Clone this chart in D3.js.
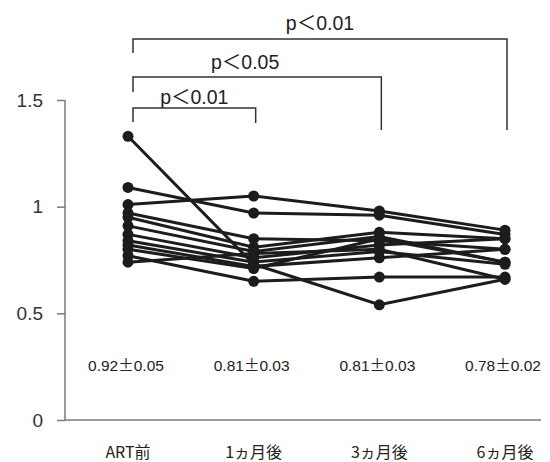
<!DOCTYPE html>
<html><head><meta charset="utf-8">
<script src="https://cdn.jsdelivr.net/npm/d3@7"></script>
<style>
html,body{margin:0;padding:0;background:#fff;}
svg{display:block;}
</style></head>
<body>
<svg id="chart" width="550" height="462"></svg>
<script>
const categories = ["ART前", "1ヵ月後", "3ヵ月後", "6ヵ月後"];
const yTicks = [0, 0.5, 1, 1.5];
const yTickLabels = ["0", "0.5", "1", "1.5"];
const statLabels = ["0.92±0.05", "0.81±0.03", "0.81±0.03", "0.78±0.02"];
// each subject: values at the four time points
const s01 = [1.33, 0.73, 0.54, 0.66];
const s02 = [1.09, 0.97, 0.96, 0.87];
const s03 = [1.01, 1.05, 0.98, 0.89];
const s04 = [0.77, 0.65, 0.67, 0.67];
const s05 = [0.97, 0.85, 0.84, 0.80];
const s06 = [0.95, 0.81, 0.88, 0.85];
const s07 = [0.91, 0.79, 0.86, 0.74];
const s08 = [0.87, 0.76, 0.82, 0.85];
const s09 = [0.84, 0.74, 0.79, 0.73];
const s10 = [0.82, 0.72, 0.76, 0.80];
const s11 = [0.80, 0.71, 0.85, 0.74];
const s12 = [0.74, 0.78, 0.80, 0.66];
const subjects = [s01, s02, s03, s04, s05, s06, s07, s08, s09, s10, s11, s12];
// significance brackets: [from category index, to category index, label]
const brackets = [
  [0, 3, "p＜0.01"],
  [0, 2, "p＜0.05"],
  [0, 1, "p＜0.01"]
];

const svg = d3.select("#chart");
const x = d3.scalePoint().domain(categories).range([128, 505]);
const y = d3.scaleLinear().domain([0, 1.5]).range([420, 100]);

const axisColor = "#7a7a7a";

// y axis
const yAxis = d3.axisLeft(y).tickValues(yTicks)
  .tickFormat((d, i) => yTickLabels[i]).tickSize(8).tickPadding(14);
const gy = svg.append("g").attr("transform", "translate(65,0)").call(yAxis);
gy.select(".domain").attr("stroke", axisColor).attr("stroke-width", 1.5).attr("d", `M0,${y(1.5)}V${y(0)}`);
gy.selectAll(".tick line").attr("stroke", axisColor).attr("stroke-width", 1.5);
gy.selectAll(".tick text").attr("fill", "#333").style("font-family", "'Liberation Sans', Arial, sans-serif").style("font-size", "19px");

// x axis line
svg.append("line").attr("x1", 65).attr("x2", 541).attr("y1", y(0)).attr("y2", y(0))
  .attr("stroke", axisColor).attr("stroke-width", 1.5);

// category labels
svg.append("g").selectAll("text").data(categories).join("text")
  .attr("x", d => x(d)).attr("y", 458)
  .attr("text-anchor", "middle")
  .style("font-family", "'Noto Sans CJK JP', 'Liberation Sans', sans-serif")
  .style("font-size", "16px").attr("fill", "#222")
  .text(d => d);

// stat labels
const st = svg.append("g").selectAll("text").data(statLabels).join("text")
  .attr("x", (d, i) => x(categories[i]) - 2).attr("y", 371)
  .attr("text-anchor", "middle")
  .style("font-family", "'Liberation Sans', Arial, sans-serif")
  .style("font-size", "15.5px").attr("fill", "#222");
st.each(function(d) {
  const parts = d.split("±");
  const t = d3.select(this);
  t.append("tspan").text(parts[0]);
  t.append("tspan").style("font-family", "'Noto Sans CJK JP', sans-serif").text("±");
  t.append("tspan").text(parts[1]);
});

// lines
const line = d3.line().x((d, i) => x(categories[i])).y(d => y(d));
svg.append("g").selectAll("path").data(subjects).join("path")
  .attr("d", line).attr("fill", "none").attr("stroke", "#1e1b1c").attr("stroke-width", 3);

// points
svg.append("g").selectAll("g").data(subjects).join("g")
  .selectAll("circle").data(d => d).join("circle")
  .attr("cx", (d, i) => x(categories[i])).attr("cy", d => y(d)).attr("r", 5.5)
  .attr("fill", "#1e1b1c");

// brackets
const bracketY = [39, 77, 108];
const legBottom = [53, 92, 122];
const rightBottom = [130, 130, 123];
const labelY = [30, 69, 104];
brackets.forEach((b, k) => {
  const x1 = x(categories[b[0]]) + 5, x2 = x(categories[b[1]]) + 2;
  svg.append("path")
    .attr("d", `M${x1},${legBottom[k]}V${bracketY[k]}H${x2}V${rightBottom[k]}`)
    .attr("fill", "none").attr("stroke", "#333").attr("stroke-width", 1.5);
  svg.append("text").attr("x", (k === 2 ? (x1 + x2) / 2 : (x1 + x2) / 2 - (k === 0 ? 0 : 12)))
    .attr("y", labelY[k]).attr("text-anchor", "middle")
    .style("font-family", "'Liberation Sans', Arial, 'Noto Sans CJK JP', sans-serif")
    .style("font-size", "19.5px").attr("fill", "#222")
    .text(b[2]);
});
</script>
</body></html>
